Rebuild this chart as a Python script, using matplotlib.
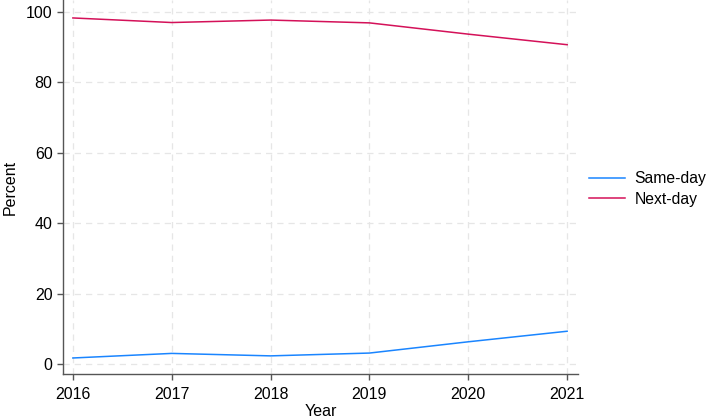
import matplotlib
matplotlib.use('Agg')
import matplotlib.pyplot as plt

years = [2016, 2017, 2018, 2019, 2020, 2021]
same_day = [1.7, 3.0, 2.3, 3.1, 6.3, 9.3]
next_day = [98.3, 97.0, 97.7, 96.9, 93.7, 90.7]
y_ticks = [0, 20, 40, 60, 80, 100]

plt.rcParams['font.family'] = ['Liberation Sans', 'DejaVu Sans']
plt.rcParams['font.size'] = 11.5

fig = plt.figure(figsize=(7.09, 4.19), dpi=100)
ax = fig.add_axes([63 / 709, 45 / 419, 515 / 709, 374 / 419])

ax.plot(years, same_day, color='#1a85ff', lw=1.1, label='Same-day')
ax.plot(years, next_day, color='#d41159', lw=1.1, label='Next-day')

ax.set_xlim(2015.9, 2021.11)
ax.set_ylim(-2.85, 103.4)
ax.set_xticks(years)
ax.set_yticks(y_ticks)
ax.grid(True, color='#e6e6e6', ls=(0, (5, 4)), lw=0.9)
ax.set_axisbelow(True)

for side in ['top', 'right']:
    ax.spines[side].set_visible(False)
for side in ['left', 'bottom']:
    ax.spines[side].set_color('#555555')
    ax.spines[side].set_linewidth(1.0)
ax.tick_params(colors='#555555', labelcolor='black', length=4.5, width=1.0, pad=3)
ax.tick_params(axis='x', pad=5)

ax.set_xlabel('Year', labelpad=1.5)
ax.set_ylabel('Percent', labelpad=6)

ax.legend(loc='center left', bbox_to_anchor=(1.0, 0.495), frameon=False,
          borderaxespad=0.3, handlelength=2.3, handletextpad=0.6,
          labelspacing=0.35, fontsize=11.3)

fig.savefig('out.png', dpi=100)
